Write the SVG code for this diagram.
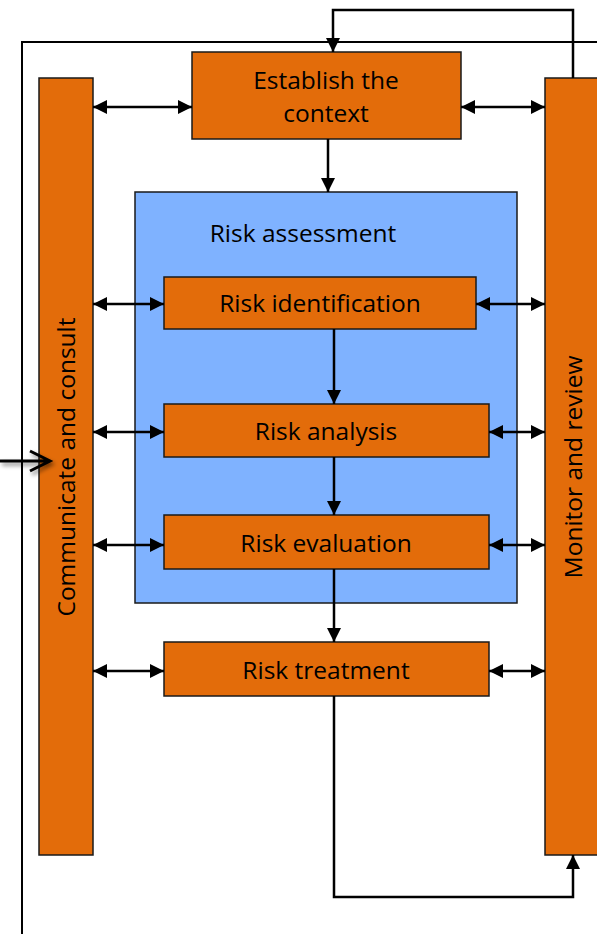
<svg xmlns="http://www.w3.org/2000/svg" width="597" height="934" viewBox="0 0 597 934">
<style>
.box{fill:#E36C0A;stroke:#1a1a1a;stroke-width:1.5}
.lbl{font-family:"Open Sans","Liberation Sans",sans-serif;font-size:24.5px;fill:#000;text-anchor:middle}
.ln{fill:none;stroke:#000;stroke-width:2}
.dbl{fill:none;stroke:#000;stroke-width:2.5;marker-start:url(#ah);marker-end:url(#ah)}
.one{fill:none;stroke:#000;stroke-width:2.5;marker-end:url(#ah)}
</style>
<defs>
<marker id="ah" viewBox="0 0 14 14" refX="14" refY="7" markerWidth="14" markerHeight="14" markerUnits="userSpaceOnUse" orient="auto-start-reverse">
<path d="M0,0 L14,7 L0,14 z" fill="#000"/>
</marker>
<filter id="sh" x="-20%" y="-50%" width="150%" height="200%">
<feGaussianBlur in="SourceAlpha" stdDeviation="2"/>
<feOffset dx="2" dy="3" result="b"/>
<feComponentTransfer><feFuncA type="linear" slope="0.5"/></feComponentTransfer>
<feMerge><feMergeNode/><feMergeNode in="SourceGraphic"/></feMerge>
</filter>
</defs>
<rect width="597" height="934" fill="#fff"/>
<g id="frame">
<path class="ln" d="M22,934 V42 H597"/>
</g>
<g id="communicate">
<rect class="box" x="39" y="78" width="54" height="777"/>
<text class="lbl" transform="translate(75,467) rotate(-90)">Communicate and consult</text>
</g>
<g id="monitor">
<rect class="box" x="545" y="78" width="60" height="777"/>
<text class="lbl" transform="translate(582,467) rotate(-90)">Monitor and review</text>
</g>
<g id="assessment">
<rect x="135" y="192" width="382" height="411" fill="#7FB2FF" stroke="#1a1a1a" stroke-width="1.5"/>
<text class="lbl" x="303" y="242">Risk assessment</text>
</g>
<g id="establish">
<rect class="box" x="192" y="52" width="269" height="87"/>
<text class="lbl" x="326" y="89">Establish the</text>
<text class="lbl" x="326" y="122">context</text>
</g>
<g id="identification">
<rect class="box" x="164" y="277" width="312" height="52"/>
<text class="lbl" x="320" y="312">Risk identification</text>
</g>
<g id="analysis">
<rect class="box" x="164" y="404" width="325" height="53"/>
<text class="lbl" x="326" y="440">Risk analysis</text>
</g>
<g id="evaluation">
<rect class="box" x="164" y="515" width="325" height="54"/>
<text class="lbl" x="326" y="552">Risk evaluation</text>
</g>
<g id="treatment">
<rect class="box" x="164" y="642" width="325" height="54"/>
<text class="lbl" x="326" y="679">Risk treatment</text>
</g>
<g id="connectors">
<path class="one" d="M573,78 V10 H333 V52"/>
<path class="dbl" d="M93,107 H192"/>
<path class="dbl" d="M461,107 H545"/>
<path class="one" d="M328,139 V192"/>
<path class="dbl" d="M93,304 H164"/>
<path class="dbl" d="M476,304 H545"/>
<path class="one" d="M334,329 V404"/>
<path class="dbl" d="M93,432 H164"/>
<path class="dbl" d="M489,432 H545"/>
<path class="one" d="M334,457 V515"/>
<path class="dbl" d="M93,545 H164"/>
<path class="dbl" d="M489,545 H545"/>
<path class="one" d="M334,569 V642"/>
<path class="dbl" d="M93,671 H164"/>
<path class="dbl" d="M489,671 H545"/>
<path class="one" d="M334,696 V897 H573 V855"/>
<g filter="url(#sh)">
<path d="M0,461 H49 M30,451 L50,461 L30,471" fill="none" stroke="#000" stroke-width="3"/>
</g>
</g>
</svg>
